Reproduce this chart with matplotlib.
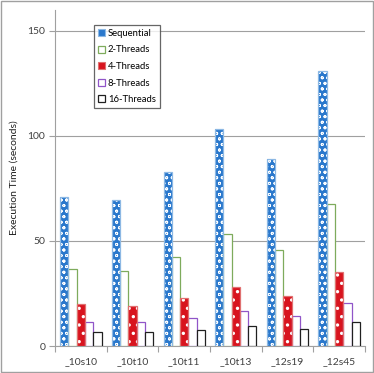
import numpy as np
import matplotlib.pyplot as plt

plt.rcParams['font.family'] = ['Lato', 'DejaVu Sans']

categories = ['_10s10', '_10t10', '_10t11', '_10t13', '_12s19', '_12s45']
series = ['Sequential', '2-Threads', '4-Threads', '8-Threads', '16-Threads']
sequential = [71.0, 69.5, 83.0, 103.5, 89.0, 131.0]
threads_2 = [36.7, 35.7, 42.4, 53.3, 45.7, 67.6]
threads_4 = [19.8, 19.0, 22.7, 28.0, 23.8, 35.2]
threads_8 = [11.6, 11.3, 13.3, 16.5, 14.4, 20.3]
threads_16 = [6.7, 6.5, 7.8, 9.5, 7.9, 11.4]
values = [sequential, threads_2, threads_4, threads_8, threads_16]

# face, hatch colour, edge, hatch, hatch width
styles = [
    ('#2A78CC', 'white', '#8CB8E4', 'ooo', 0.6),
    ('white', None, '#7EAB5C', None, 0),
    ('#D8141E', 'white', '#E07070', '..', 1.2),
    ('white', None, '#9055C8', None, 0),
    ('white', None, '#202020', None, 0),
]

fig = plt.figure(figsize=(3.74, 3.73), dpi=100)
ax = fig.add_axes([55 / 374, 27 / 373, 310 / 374, 336 / 373])

x = np.arange(len(categories))
w = 0.16
handles = []
for i, (name, vals) in enumerate(zip(series, values)):
    face, hcol, edge, hatch, hw = styles[i]
    pos = x + (i - 2) * w
    if hatch:
        with plt.rc_context({'hatch.linewidth': hw}):
            ax.bar(pos, vals, w, color=face, edgecolor=hcol, hatch=hatch,
                   linewidth=0, zorder=3)
        ax.bar(pos, vals, w, fill=False, edgecolor=edge, linewidth=0.9, zorder=4)
        handles.append(plt.Rectangle((0, 0), 1, 1, facecolor=face,
                                     edgecolor=edge, linewidth=0.8))
    else:
        ax.bar(pos, vals, w, color=face, edgecolor=edge, linewidth=0.9, zorder=3)
        handles.append(plt.Rectangle((0, 0), 1, 1, facecolor=face,
                                     edgecolor=edge, linewidth=0.9))

ax.set_xlim(-0.5, len(categories) - 0.5)
ax.set_ylim(0, 160)
ax.set_yticks([0, 50, 100, 150])
ax.set_xticks(x)
ax.set_xticklabels(categories)
ax.set_xticks(np.arange(-0.5, len(categories)), minor=True)
ax.tick_params(axis='x', which='major', length=0, pad=8, labelsize=7.5, colors='#404040')
ax.tick_params(axis='x', which='minor', length=4, color='#A0A0A0', width=0.8)
ax.tick_params(axis='y', length=4, color='#A0A0A0', width=0.8, labelsize=7.5,
               labelcolor='#404040', pad=3)
ax.yaxis.grid(True, color='#A0A0A0', linewidth=0.8, zorder=0)
ax.set_axisbelow(True)
for s in ['top', 'right']:
    ax.spines[s].set_visible(False)
for s in ['left', 'bottom']:
    ax.spines[s].set_color('#A0A0A0')
    ax.spines[s].set_linewidth(0.8)
ax.set_ylabel('Execution Time (seconds)', fontsize=7.5, color='#202020', labelpad=6)

leg = ax.legend(handles, series, loc='upper left', bbox_to_anchor=(0.125, 0.955),
                fontsize=6.8, frameon=True, fancybox=False, handlelength=0.8,
                handleheight=0.8, handletextpad=0.3, labelspacing=0.8,
                borderpad=0.4, borderaxespad=0)
leg.get_frame().set_edgecolor('#404040')
leg.get_frame().set_linewidth(0.9)
leg.set_zorder(5)

fig.patches.append(plt.Rectangle((0.002, 0.002), 0.994, 0.994, transform=fig.transFigure,
                                 fill=False, edgecolor='#A0A0A0', linewidth=1))
fig.savefig('out.png', dpi=100)
